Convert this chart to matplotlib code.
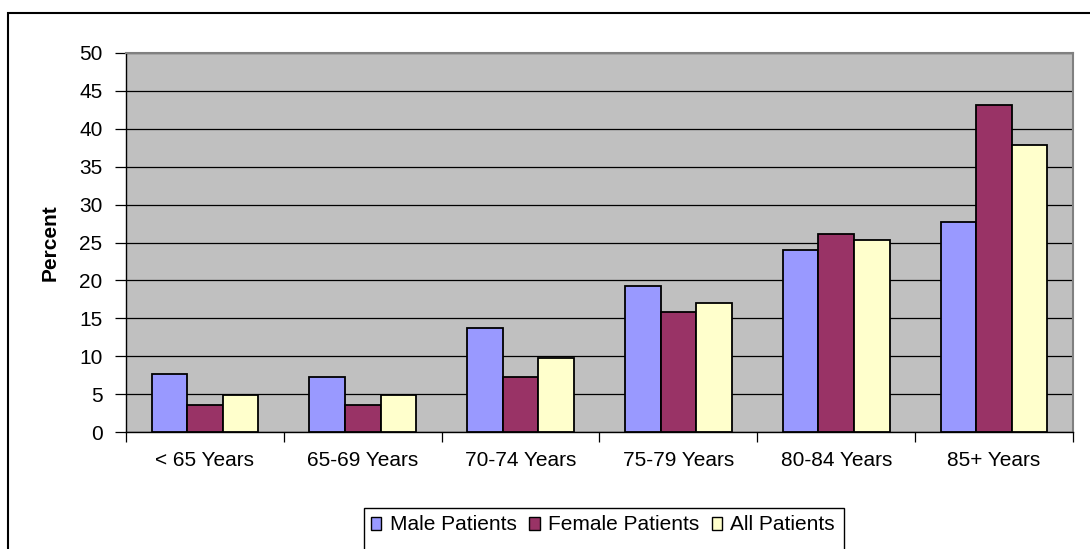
import matplotlib
matplotlib.use("Agg")
import matplotlib.pyplot as plt
import numpy as np
from matplotlib.patches import Rectangle

categories = ["< 65 Years", "65-69 Years", "70-74 Years", "75-79 Years", "80-84 Years", "85+ Years"]
male = [7.6, 7.3, 13.7, 19.2, 24.0, 27.7]
female = [3.6, 3.6, 7.3, 15.8, 26.1, 43.1]
all_pat = [4.9, 4.9, 9.7, 17.0, 25.3, 37.8]
series_names = ["Male Patients", "Female Patients", "All Patients"]
colors = ["#9999FF", "#993366", "#FFFFCC"]

plt.rcParams['font.family'] = ['Liberation Sans', 'DejaVu Sans']

W, H = 1090, 549
fig = plt.figure(figsize=(W/100, H/100), dpi=100)
ax = fig.add_axes([126/W, 1-432/H, (1073-126)/W, (432-53)/H])
ax.set_facecolor("#C0C0C0")

x = np.arange(len(categories))
w = 0.225
for i, (vals, c, n) in enumerate(zip([male, female, all_pat], colors, series_names)):
    ax.bar(x + (i-1)*w, vals, width=w, color=c, edgecolor="black", linewidth=1.3, label=n, zorder=3)

ax.set_xlim(-0.5, len(categories)-0.5)
ax.set_ylim(0, 50)
ax.set_yticks(np.arange(0, 51, 5))
ax.yaxis.grid(True, color="black", linewidth=0.9, zorder=1)
ax.set_axisbelow(True)
ax.set_xticks(x)
ax.set_xticklabels(categories, fontsize=15)
ax.set_xticks(np.arange(-0.5, len(categories), 1), minor=True)
ax.tick_params(axis='x', which='major', length=0, pad=14)
ax.tick_params(axis='x', which='minor', length=7, width=0.9, direction='out')
ax.tick_params(axis='y', length=8, width=0.9, direction='out', labelsize=15, pad=9)
for s in ["top", "right"]:
    ax.spines[s].set_color("#808080")
    ax.spines[s].set_linewidth(1.5)
for s in ["left", "bottom"]:
    ax.spines[s].set_color("black")
    ax.spines[s].set_linewidth(1.0)
ax.set_ylabel("Percent", fontsize=15, fontweight="bold", labelpad=14)

leg = fig.legend(loc="center left", bbox_to_anchor=(371/W, 1-525/H), ncol=3, fontsize=15,
                 frameon=False, handlelength=0.5,
                 handleheight=0.6, handletextpad=0.4, columnspacing=0.6, borderpad=0.0,
                 borderaxespad=0)
for hnd in leg.legend_handles:
    hnd.set_linewidth(1.0)

# legend frame (extends past the bottom edge as in the reference)
fig.patches.append(Rectangle((364/W, -0.1), (844-364)/W, 0.1 + 1 - 508/H, transform=fig.transFigure,
                             fill=False, edgecolor="black", linewidth=1.0, clip_on=False))
# outer chart border
fig.patches.append(Rectangle((8/W, -0.1), 1.2, 1 - 13/H + 0.1, transform=fig.transFigure,
                             fill=False, edgecolor="black", linewidth=1.5, clip_on=False))

fig.savefig("out.png", dpi=100)
